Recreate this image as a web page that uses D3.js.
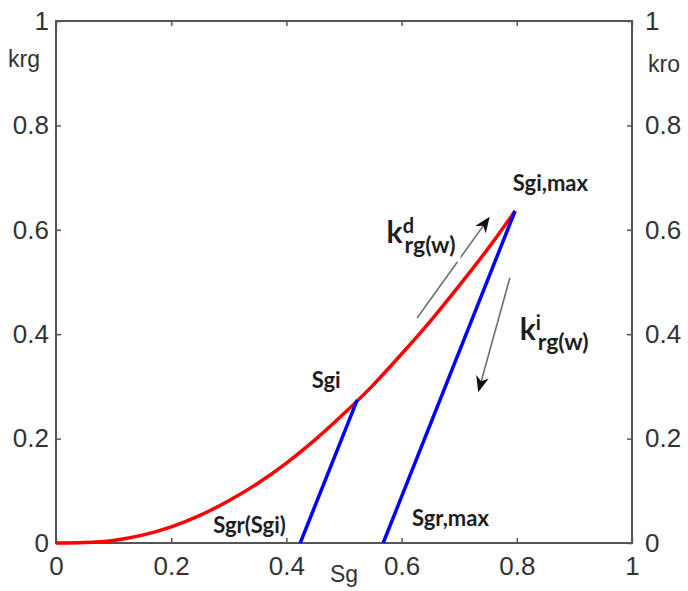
<!DOCTYPE html>
<html>
<head>
<meta charset="utf-8">
<script src="https://cdn.jsdelivr.net/npm/d3@7"></script>
<style>
  html, body { margin: 0; padding: 0; background: #fff; }
  svg { display: block; }
</style>
</head>
<body>
<div id="chart"></div>
<script>
// Gas relative permeability: drainage curve and imbibition scanning lines
const tickValues = [0, 0.2, 0.4, 0.6, 0.8, 1];
const tickLabels = ["0", "0.2", "0.4", "0.6", "0.8", "1"];

// Drainage krg(Sg)
const drainSg  = [0, 0.05, 0.10, 0.15, 0.20, 0.25, 0.30, 0.35, 0.40, 0.45, 0.50, 0.55, 0.60, 0.65, 0.70, 0.75, 0.797];
const drainKrg = [0, 0.001, 0.005, 0.015, 0.031, 0.053, 0.081, 0.114, 0.153, 0.198, 0.248, 0.302, 0.362, 0.425, 0.493, 0.564, 0.636];

// Imbibition scanning lines: [Sgr, Sgi] -> krg at Sgi
const scanSg  = [[0.424, 0.523], [0.568, 0.797]];
const scanKrg = [[0, 0.274], [0, 0.636]];

// Point labels
const pointLabels = ["Sgi,max", "Sgi", "Sgr(Sgi)", "Sgr,max"];
const pointLabelSg = [0.793, 0.444, 0.273, 0.618];
const pointLabelKrg = [0.674, 0.297, 0.019, 0.033];

// Direction arrows (start -> tip)
const arrowFrom = [[0.627, 0.431], [0.788, 0.508]];
const arrowTo   = [[0.753, 0.625], [0.733, 0.289]];

const W = 688, H = 591;
const x = d3.scaleLinear().domain([0, 1]).range([56, 632]);
const y = d3.scaleLinear().domain([0, 1]).range([543, 21]);

const svg = d3.select("#chart").append("svg")
  .attr("width", W).attr("height", H)
  .style("background", "#fff");

const tickFont = "'Liberation Sans', Arial, sans-serif";
const labelFont = "Lato, 'Open Sans', sans-serif";
const fmt = v => tickLabels[tickValues.indexOf(v)];

function styleAxis(g) {
  g.select(".domain").remove();
  g.selectAll(".tick line").attr("stroke", "#555").attr("stroke-width", 1.5);
  g.selectAll(".tick text")
    .attr("font-family", tickFont)
    .attr("font-size", 26)
    .attr("fill", "#333");
}

svg.append("g").attr("transform", `translate(0,${y(0)})`)
  .call(d3.axisBottom(x).tickValues(tickValues).tickFormat(fmt)
    .tickSizeInner(-5).tickSizeOuter(0).tickPadding(14))
  .call(styleAxis);

svg.append("g").attr("transform", `translate(0,${y(1)})`)
  .call(d3.axisTop(x).tickValues(tickValues).tickFormat("")
    .tickSizeInner(-5).tickSizeOuter(0))
  .call(styleAxis);

svg.append("g").attr("transform", `translate(${x(0)},0)`)
  .call(d3.axisLeft(y).tickValues(tickValues).tickFormat(fmt)
    .tickSizeInner(-5).tickSizeOuter(0).tickPadding(7))
  .call(styleAxis);

svg.append("g").attr("transform", `translate(${x(1)},0)`)
  .call(d3.axisRight(y).tickValues(tickValues).tickFormat(fmt)
    .tickSizeInner(-5).tickSizeOuter(0).tickPadding(13))
  .call(styleAxis);

// Plot frame
svg.append("rect")
  .attr("x", x(0)).attr("y", y(1))
  .attr("width", x(1) - x(0)).attr("height", y(0) - y(1))
  .attr("fill", "none").attr("stroke", "#555").attr("stroke-width", 2);

// Axis titles
svg.append("text").text("krg")
  .attr("x", 8).attr("y", 67)
  .attr("font-family", tickFont).attr("font-size", 23).attr("fill", "#333");
svg.append("text").text("kro")
  .attr("x", 648).attr("y", 72)
  .attr("font-family", tickFont).attr("font-size", 23).attr("fill", "#333");
svg.append("text").text("Sg")
  .attr("x", 330).attr("y", 582)
  .attr("font-family", tickFont).attr("font-size", 23).attr("fill", "#333");

// Drainage curve
const drainData = drainSg.map((s, i) => [s, drainKrg[i]]);
const curve = d3.line().x(d => x(d[0])).y(d => y(d[1])).curve(d3.curveMonotoneX);
svg.append("path")
  .datum(drainData)
  .attr("d", curve)
  .attr("fill", "none").attr("stroke", "#ff0000").attr("stroke-width", 3.5);

// Scanning lines
const straight = d3.line().x(d => x(d[0])).y(d => y(d[1]));
scanSg.forEach((sg, i) => {
  svg.append("path")
    .datum(sg.map((s, j) => [s, scanKrg[i][j]]))
    .attr("d", straight)
    .attr("fill", "none").attr("stroke", "#0000ff").attr("stroke-width", 3.5);
});

// Arrows
arrowFrom.forEach((a, i) => {
  const b = arrowTo[i];
  const x1 = x(a[0]), y1 = y(a[1]), x2 = x(b[0]), y2 = y(b[1]);
  const ang = Math.atan2(y2 - y1, x2 - x1);
  const len = 16, half = 6.5;
  const bx = x2 - len * Math.cos(ang), by = y2 - len * Math.sin(ang);
  const nx = -Math.sin(ang), ny = Math.cos(ang);
  const mx = x2 - (len * 0.7) * Math.cos(ang), my = y2 - (len * 0.7) * Math.sin(ang);
  svg.append("line")
    .attr("x1", x1).attr("y1", y1).attr("x2", mx).attr("y2", my)
    .attr("stroke", "#6e6e6e").attr("stroke-width", 1.6);
  svg.append("path")
    .attr("d", `M${x2},${y2}L${bx + nx * half},${by + ny * half}L${mx},${my}L${bx - nx * half},${by - ny * half}Z`)
    .attr("fill", "#111");
});

// k labels with superscript and subscript
function kLabel(px, py, sup) {
  const g = svg.append("g").attr("transform", `translate(${px},${py})`);
  const bg = g.append("rect").attr("fill", "#fff");
  const t = g.append("text")
    .attr("font-family", labelFont).attr("font-weight", 700).attr("fill", "#1e1e1e");
  t.append("tspan").attr("font-size", 30).text("k");
  t.append("tspan").attr("font-size", 20).attr("dy", -10).text(sup);
  t.append("tspan").attr("font-size", 23).attr("x", 18).attr("dy", 20).text("rg(w)");
  const b = t.node().getBBox();
  bg.attr("x", b.x - 2).attr("y", b.y + 4).attr("width", b.width + 7).attr("height", b.height);
  return g;
}
kLabel(x(0.574), y(0.575), "d");
kLabel(x(0.805), y(0.389), "i");

// Point labels
pointLabels.forEach((txt, i) => {
  svg.append("text").text(txt)
    .attr("x", x(pointLabelSg[i])).attr("y", y(pointLabelKrg[i]))
    .attr("font-family", labelFont).attr("font-weight", 700)
    .attr("font-size", 22).attr("fill", "#1e1e1e");
});
</script>
</body>
</html>
